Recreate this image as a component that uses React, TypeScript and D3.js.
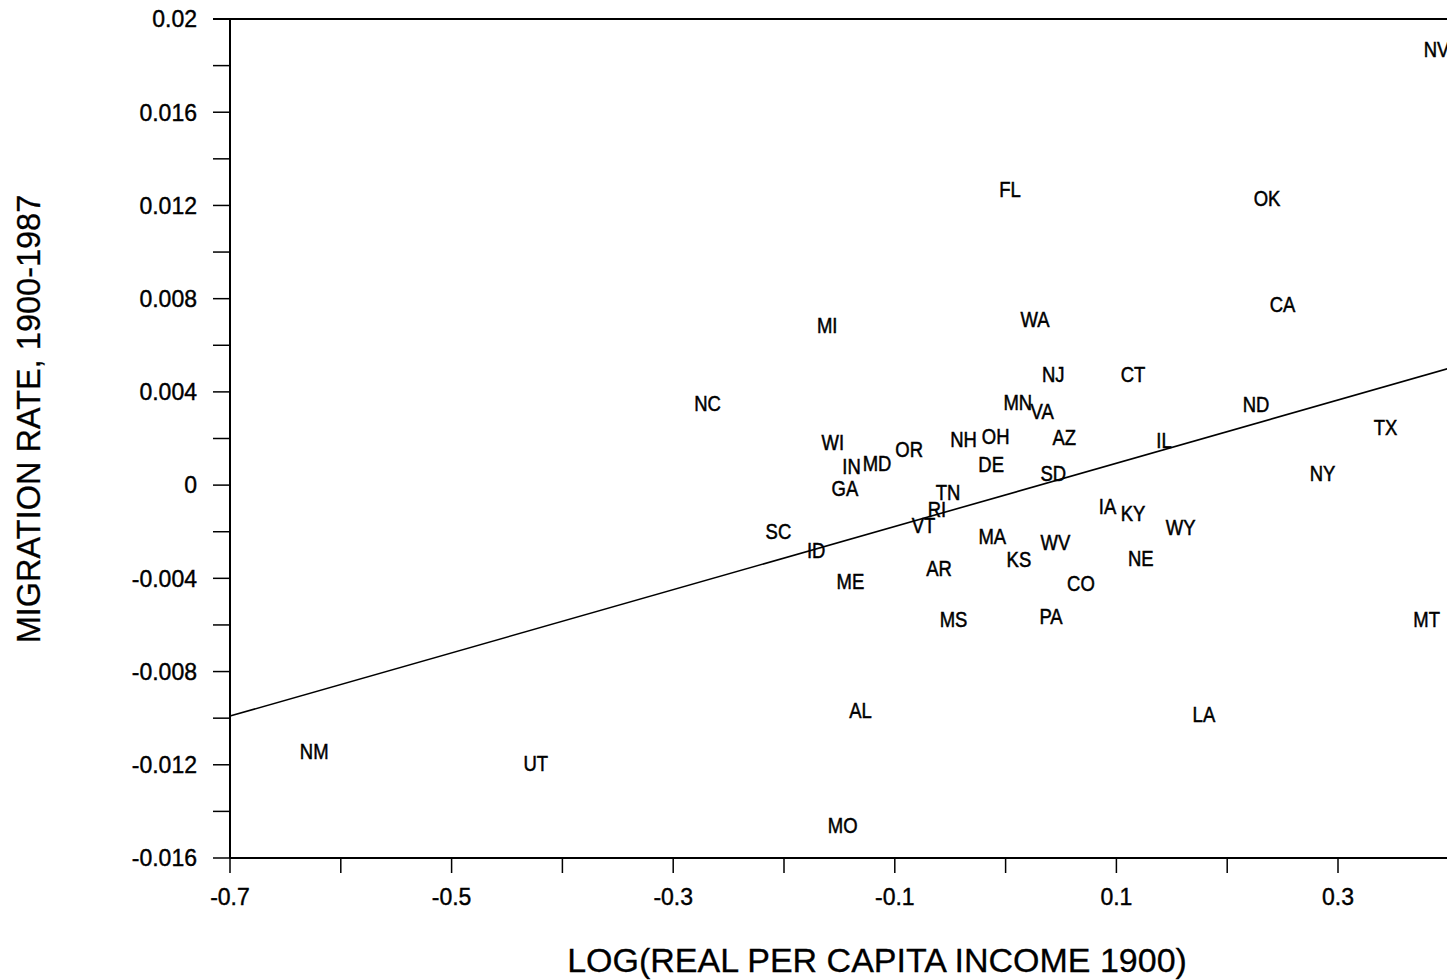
import React from "react";
import * as d3 from "d3";

const states = ["NV","FL","OK","CA","MI","WA","NJ","CT","NC","MN","VA","ND","TX","WI","NH","OH","AZ","IL","OR","IN","MD","DE","SD","NY","GA","TN","RI","IA","KY","VT","SC","WY","MA","WV","ID","KS","NE","AR","ME","CO","MS","PA","MT","AL","LA","NM","UT","MO"];
const logIncome1900 = [0.389,0.004,0.236,0.250,-0.161,0.0265,0.043,0.115,-0.269,0.011,0.033,0.226,0.343,-0.156,-0.038,-0.009,0.053,0.143,-0.087,-0.139,-0.116,-0.013,0.043,0.286,-0.145,-0.052,-0.062,0.092,0.115,-0.074,-0.205,0.158,-0.012,0.045,-0.171,0.012,0.122,-0.060,-0.140,0.068,-0.047,0.041,0.380,-0.131,0.179,-0.624,-0.424,-0.147];
const migrationRate = [0.01871,0.01270,0.01232,0.00777,0.00687,0.00712,0.00476,0.00476,0.00352,0.00356,0.00318,0.00348,0.00249,0.00185,0.00197,0.00210,0.00206,0.00193,0.00155,0.00082,0.00094,0.00090,0.00052,0.00052,-0.00013,-0.00030,-0.00103,-0.00090,-0.00120,-0.00172,-0.00197,-0.00180,-0.00219,-0.00245,-0.00279,-0.00318,-0.00313,-0.00356,-0.00412,-0.00421,-0.00575,-0.00562,-0.00575,-0.00966,-0.00983,-0.01142,-0.01193,-0.01459];

const fitIntercept = -0.000418;
const fitSlope = 0.01356;

const xTicks = [-0.7,-0.6,-0.5,-0.4,-0.3,-0.2,-0.1,0,0.1,0.2,0.3,0.4];
const xTickLabels = ["-0.7","-0.5","-0.3","-0.1","0.1","0.3"];
const yTicks = [-0.016,-0.014,-0.012,-0.01,-0.008,-0.006,-0.004,-0.002,0,0.002,0.004,0.006,0.008,0.01,0.012,0.014,0.016,0.018,0.02];
const yTickLabels = ["-0.016","-0.012","-0.008","-0.004","0","0.004","0.008","0.012","0.016","0.02"];

const W = 1447, H = 980;
const font = "'Liberation Sans', Arial, Helvetica, sans-serif";

export default function App() {
  const x = d3.scaleLinear().domain([-0.7, 0.41]).range([230, 230 + 1.11 * 1108]);
  const y = d3.scaleLinear().domain([-0.016, 0.02]).range([858, 19]);
  const [x0, x1] = x.range();
  const [yb, yt] = y.range();
  const lineGen = d3.line<number>().x(d => x(d)).y(d => y(fitIntercept + fitSlope * d));
  const fitPath = lineGen(x.domain()) || "";
  const data = states.map((s, i) => ({ s, xv: logIncome1900[i], yv: migrationRate[i] }));
  return (
    <svg width={W} height={H} style={{ position: "absolute", left: 0, top: 0, background: "#fff" }} fontFamily={font}>
      <rect x={0} y={0} width={W} height={H} fill="#fff" />
      {/* frame */}
      <line x1={x0} x2={x0} y1={yt} y2={yb} stroke="#000" strokeWidth={2} />
      <line x1={x0} x2={x1} y1={yb} y2={yb} stroke="#000" strokeWidth={2} />
      <line x1={x0 - 17} x2={x1} y1={yt} y2={yt} stroke="#000" strokeWidth={2} />
      <line x1={x1} x2={x1} y1={yt} y2={yb} stroke="#000" strokeWidth={2} />
      {/* y ticks */}
      {yTicks.map((t, i) => (
        <line key={"yt" + i} x1={x0 - 17} x2={x0} y1={y(t)} y2={y(t)} stroke="#000" strokeWidth={1.5} />
      ))}
      {yTickLabels.map((l) => (
        <text key={"yl" + l} x={197} y={y(+l)} dy="0.36em" textAnchor="end" fontSize={23} fill="#000" stroke="#000" strokeWidth={0.4}>{l}</text>
      ))}
      {/* x ticks */}
      {xTicks.map((t, i) => (
        <line key={"xt" + i} x1={x(t)} x2={x(t)} y1={yb} y2={yb + 15} stroke="#000" strokeWidth={1.5} />
      ))}
      {xTickLabels.map((l) => (
        <text key={"xl" + l} x={x(+l)} y={897} dy="0.36em" textAnchor="middle" fontSize={23} fill="#000" stroke="#000" strokeWidth={0.4}>{l}</text>
      ))}
      {/* regression line */}
      <path d={fitPath} fill="none" stroke="#000" strokeWidth={1.6} />
      {/* state labels */}
      {data.map(d => (
        <text key={d.s} transform={`translate(${x(d.xv)},${y(d.yv)}) scale(0.86,1)`} dy="0.36em" textAnchor="middle" fontSize={21.5} fill="#000" stroke="#000" strokeWidth={0.5}>{d.s}</text>
      ))}
      {/* axis titles */}
      <text x={877} y={960} dy="0.36em" textAnchor="middle" fontSize={34} fill="#000" stroke="#000" strokeWidth={0.3}>LOG(REAL PER CAPITA INCOME 1900)</text>
      <text transform={`translate(28,419) rotate(-90)`} dy="0.36em" textAnchor="middle" fontSize={32.5} fill="#000" stroke="#000" strokeWidth={0.3}>MIGRATION RATE, 1900-1987</text>
    </svg>
  );
}
